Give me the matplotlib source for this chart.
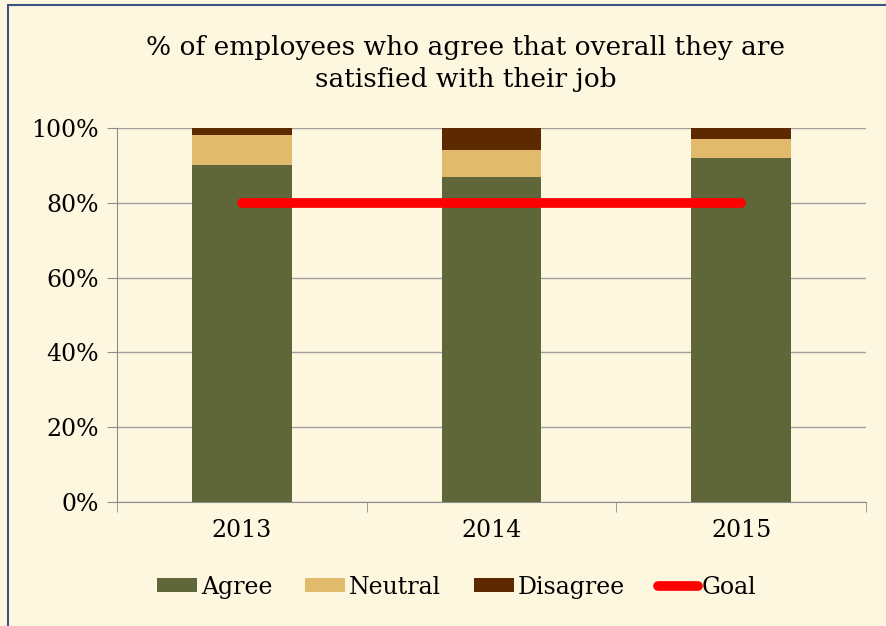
import numpy as np
import matplotlib.pyplot as plt
from matplotlib.patches import Rectangle

years = ["2013", "2014", "2015"]
agree = [90, 87, 92]
neutral = [8, 7, 5]
disagree = [2, 6, 3]
goal = [80, 80, 80]

BG = "#FEF7E0"
plt.rcParams["font.family"] = ["DejaVu Serif"]

fig = plt.figure(figsize=(8.87, 6.26), dpi=100, facecolor=BG)
ax = fig.add_axes([0.1319, 0.198, 0.8444, 0.5975], facecolor=BG)

x = np.arange(len(years))
w = 0.4
agree = np.array(agree)
neutral = np.array(neutral)
disagree = np.array(disagree)
h1 = ax.bar(x, agree, w, color="#5F673A", label="Agree", zorder=3)
h2 = ax.bar(x, neutral, w, bottom=agree, color="#E2BA6E", label="Neutral", zorder=3)
h3 = ax.bar(x, disagree, w, bottom=agree + neutral, color="#5C2900", label="Disagree", zorder=3)
h4, = ax.plot(x, goal, color="#FF0000", lw=7, solid_capstyle="round", label="Goal", zorder=4)

ax.set_xlim(-0.5, 2.5)
ax.set_ylim(0, 100)
ax.set_yticks(np.arange(0, 101, 20))
ax.set_yticklabels([f"{v}%" for v in range(0, 101, 20)])
ax.set_xticks(x)
ax.set_xticklabels(years)
ax.set_xticks([-0.5, 0.5, 1.5, 2.5], minor=True)
ax.tick_params(axis="x", which="major", length=0, pad=12, labelsize=17)
ax.tick_params(axis="x", which="minor", length=7, color="#8C8C8C")
ax.tick_params(axis="y", length=7, color="#8C8C8C", labelsize=17, pad=6)
ax.grid(axis="y", color="#A0A0A0", lw=1, zorder=0)
for s in ["top", "right"]:
    ax.spines[s].set_visible(False)
for s in ["left", "bottom"]:
    ax.spines[s].set_color("#8C8C8C")

fig.text(0.525, 0.898, "% of employees who agree that overall they are\nsatisfied with their job",
         ha="center", va="center", fontsize=19, linespacing=1.35)

fig.legend(handles=[h1, h2, h3, h4], loc="center", bbox_to_anchor=(0.515, 0.062), ncol=4,
           frameon=False, fontsize=17, handlelength=1.7, handleheight=0.55,
           handletextpad=0.15, columnspacing=1.4)

fig.patches.append(Rectangle((8 / 887, -0.1), 1.2, 1.1 - 5 / 626, transform=fig.transFigure,
                             fill=False, edgecolor="#3A5583", lw=1.5))

fig.savefig("out.png", dpi=100, facecolor=BG)
